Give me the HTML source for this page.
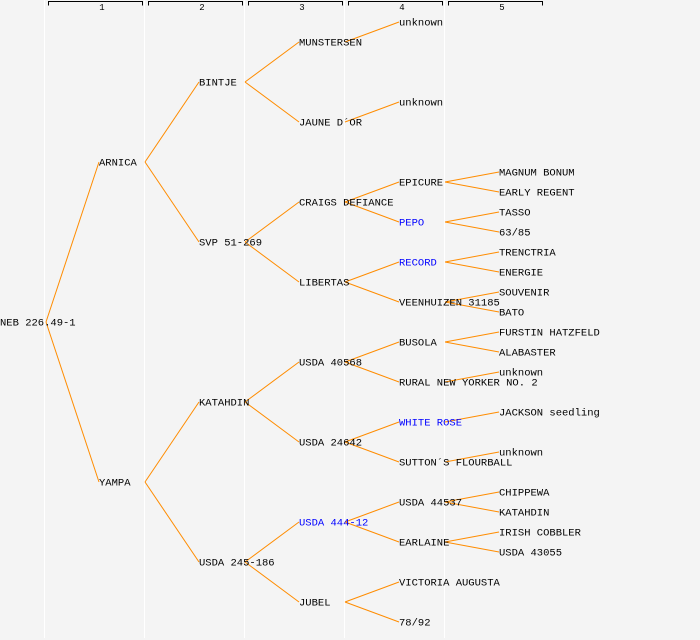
<!DOCTYPE html>
<html><head><meta charset="utf-8"><style>
html,body{margin:0;padding:0;background:#f4f4f4;}
svg{display:block;}
text{font-family:"Liberation Mono",monospace;font-size:10.5px;fill:#000;}
.b{fill:#0000ff;}
.h{font-size:9px;text-anchor:middle;}
line.e{stroke:#ff8c00;stroke-width:1;}
</style></head><body>
<svg width="700" height="640" viewBox="0 0 700 640">
<rect width="700" height="640" fill="#f4f4f4"/>
<g stroke="#ffffff" stroke-width="1">
<line x1="44.5" y1="0" x2="44.5" y2="638"/><line x1="144.5" y1="0" x2="144.5" y2="638"/>
<line x1="244.5" y1="0" x2="244.5" y2="638"/><line x1="344.5" y1="0" x2="344.5" y2="638"/>
<line x1="444.5" y1="0" x2="444.5" y2="638"/>
</g>
<g stroke="#000" stroke-width="1" fill="none">
<path d="M48.5 5.5V1.5H142.5V5.5"/><path d="M148.5 5.5V1.5H242.5V5.5"/><path d="M248.5 5.5V1.5H342.5V5.5"/><path d="M348.5 5.5V1.5H442.5V5.5"/><path d="M448.5 5.5V1.5H542.5V5.5"/>
</g>
<text class="h" x="102" y="10">1</text><text class="h" x="202" y="10">2</text><text class="h" x="302" y="10">3</text><text class="h" x="402" y="10">4</text><text class="h" x="502" y="10">5</text>
<g class="edges">
<line class="e" x1="46" y1="322" x2="99" y2="162"/><line class="e" x1="46" y1="322" x2="99" y2="482"/>
<line class="e" x1="145" y1="162" x2="199" y2="82"/><line class="e" x1="145" y1="162" x2="199" y2="242"/>
<line class="e" x1="145" y1="482" x2="199" y2="402"/><line class="e" x1="145" y1="482" x2="199" y2="562"/>
<line class="e" x1="245" y1="82" x2="299" y2="42"/><line class="e" x1="245" y1="82" x2="299" y2="122"/>
<line class="e" x1="245" y1="242" x2="299" y2="202"/><line class="e" x1="245" y1="242" x2="299" y2="282"/>
<line class="e" x1="245" y1="402" x2="299" y2="362"/><line class="e" x1="245" y1="402" x2="299" y2="442"/>
<line class="e" x1="245" y1="562" x2="299" y2="522"/><line class="e" x1="245" y1="562" x2="299" y2="602"/>
<line class="e" x1="345" y1="42" x2="399" y2="22"/><line class="e" x1="345" y1="122" x2="399" y2="102"/>
<line class="e" x1="345" y1="202" x2="399" y2="182"/><line class="e" x1="345" y1="202" x2="399" y2="222"/>
<line class="e" x1="345" y1="282" x2="399" y2="262"/><line class="e" x1="345" y1="282" x2="399" y2="302"/>
<line class="e" x1="345" y1="362" x2="399" y2="342"/><line class="e" x1="345" y1="362" x2="399" y2="382"/>
<line class="e" x1="345" y1="442" x2="399" y2="422"/><line class="e" x1="345" y1="442" x2="399" y2="462"/>
<line class="e" x1="345" y1="522" x2="399" y2="502"/><line class="e" x1="345" y1="522" x2="399" y2="542"/>
<line class="e" x1="345" y1="602" x2="399" y2="582"/><line class="e" x1="345" y1="602" x2="399" y2="622"/>
<line class="e" x1="445" y1="182" x2="499" y2="172"/><line class="e" x1="445" y1="182" x2="499" y2="192"/>
<line class="e" x1="445" y1="222" x2="499" y2="212"/><line class="e" x1="445" y1="222" x2="499" y2="232"/>
<line class="e" x1="445" y1="262" x2="499" y2="252"/><line class="e" x1="445" y1="262" x2="499" y2="272"/>
<line class="e" x1="445" y1="302" x2="499" y2="292"/><line class="e" x1="445" y1="302" x2="499" y2="312"/>
<line class="e" x1="445" y1="342" x2="499" y2="332"/><line class="e" x1="445" y1="342" x2="499" y2="352"/>
<line class="e" x1="445" y1="382" x2="499" y2="372"/>
<line class="e" x1="445" y1="422" x2="499" y2="412"/>
<line class="e" x1="445" y1="462" x2="499" y2="452"/>
<line class="e" x1="445" y1="502" x2="499" y2="492"/><line class="e" x1="445" y1="502" x2="499" y2="512"/>
<line class="e" x1="445" y1="542" x2="499" y2="532"/><line class="e" x1="445" y1="542" x2="499" y2="552"/>
</g>
<g transform="translate(0,-0.5)">
<text x="0" y="326">NEB 226.49-1</text>
<text x="99" y="166">ARNICA</text><text x="99" y="486">YAMPA</text>
<text x="199" y="86">BINTJE</text><text x="199" y="246">SVP 51-269</text><text x="199" y="406">KATAHDIN</text><text x="199" y="566">USDA 245-186</text>
<text x="299" y="46">MUNSTERSEN</text><text x="299" y="126">JAUNE D´OR</text><text x="299" y="206">CRAIGS DEFIANCE</text><text x="299" y="286">LIBERTAS</text>
<text x="299" y="366">USDA 40568</text><text x="299" y="446">USDA 24642</text><text class="b" x="299" y="526">USDA 444-12</text><text x="299" y="606">JUBEL</text>
<text x="399" y="26">unknown</text><text x="399" y="106">unknown</text>
<text x="399" y="186">EPICURE</text><text class="b" x="399" y="226">PEPO</text><text class="b" x="399" y="266">RECORD</text><text x="399" y="306">VEENHUIZEN 31185</text>
<text x="399" y="346">BUSOLA</text><text x="399" y="386">RURAL NEW YORKER NO. 2</text><text class="b" x="399" y="426">WHITE ROSE</text><text x="399" y="466">SUTTON´S FLOURBALL</text>
<text x="399" y="506">USDA 44537</text><text x="399" y="546">EARLAINE</text><text x="399" y="586">VICTORIA AUGUSTA</text><text x="399" y="626">78/92</text>
<text x="499" y="176">MAGNUM BONUM</text><text x="499" y="196">EARLY REGENT</text><text x="499" y="216">TASSO</text><text x="499" y="236">63/85</text>
<text x="499" y="256">TRENCTRIA</text><text x="499" y="276">ENERGIE</text><text x="499" y="296">SOUVENIR</text><text x="499" y="316">BATO</text>
<text x="499" y="336">FURSTIN HATZFELD</text><text x="499" y="356">ALABASTER</text><text x="499" y="376">unknown</text>
<text x="499" y="416">JACKSON seedling</text><text x="499" y="456">unknown</text>
<text x="499" y="496">CHIPPEWA</text><text x="499" y="516">KATAHDIN</text><text x="499" y="536">IRISH COBBLER</text><text x="499" y="556">USDA 43055</text>
</g>
</svg>
</body></html>
